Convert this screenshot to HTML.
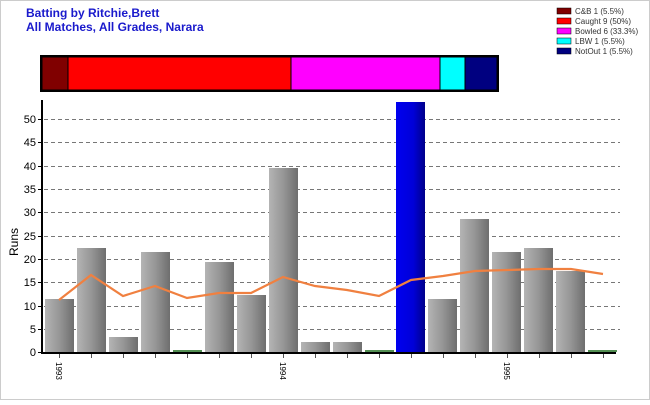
<!DOCTYPE html>
<html><head><style>
body{margin:0;background:#fff;width:650px;height:400px;overflow:hidden;font-family:"Liberation Sans",Arial,sans-serif}
</style></head><body>
<svg width="650" height="400" xmlns="http://www.w3.org/2000/svg" font-family="Liberation Sans, Arial, sans-serif">
<defs>
<linearGradient id="g" x1="0" x2="1" y1="0" y2="0">
<stop offset="0" stop-color="#b4b4b4"/><stop offset="0.5" stop-color="#969696"/><stop offset="1" stop-color="#6e6e6e"/></linearGradient>
<linearGradient id="b" x1="0" x2="1" y1="0" y2="0">
<stop offset="0" stop-color="#0000f0"/><stop offset="0.6" stop-color="#0000d8"/><stop offset="1" stop-color="#00008a"/></linearGradient>
</defs>
<rect x="0.5" y="0.5" width="649" height="399" fill="#fff" stroke="#ccc"/>
<text x="26" y="17" font-size="12" font-weight="bold" fill="#1a1acc">Batting by Ritchie,Brett</text>
<text x="26" y="31" font-size="12" font-weight="bold" fill="#1a1acc">All Matches, All Grades, Narara</text>
<g font-size="8" fill="#333">
<rect x="557" y="8" width="14" height="6" fill="#800000" stroke="#000" stroke-width="0.5"/><text x="575" y="14">C&amp;B 1 (5.5%)</text>
<rect x="557" y="18" width="14" height="6" fill="#ff0000" stroke="#000" stroke-width="0.5"/><text x="575" y="24">Caught 9 (50%)</text>
<rect x="557" y="28" width="14" height="6" fill="#ff00ff" stroke="#000" stroke-width="0.5"/><text x="575" y="34">Bowled 6 (33.3%)</text>
<rect x="557" y="38" width="14" height="6" fill="#00ffff" stroke="#000" stroke-width="0.5"/><text x="575" y="44">LBW 1 (5.5%)</text>
<rect x="557" y="48" width="14" height="6" fill="#000080" stroke="#000" stroke-width="0.5"/><text x="575" y="54">NotOut 1 (5.5%)</text>
</g>
<g stroke="#000" stroke-width="1">
<rect x="42" y="57" width="26" height="33" fill="#800000"/>
<rect x="68" y="57" width="223" height="33" fill="#ff0000"/>
<rect x="291" y="57" width="149" height="33" fill="#ff00ff"/>
<rect x="440" y="57" width="25" height="33" fill="#00ffff"/>
<rect x="465" y="57" width="32" height="33" fill="#000080"/>
</g>
<rect x="41" y="56" width="457" height="35" fill="none" stroke="#000" stroke-width="2"/>
<g stroke="#777" stroke-dasharray="4,3" stroke-width="1">
<line x1="44" x2="620" y1="329.5" y2="329.5"/><line x1="44" x2="620" y1="306.5" y2="306.5"/>
<line x1="44" x2="620" y1="282.5" y2="282.5"/><line x1="44" x2="620" y1="259.5" y2="259.5"/>
<line x1="44" x2="620" y1="236.5" y2="236.5"/><line x1="44" x2="620" y1="212.5" y2="212.5"/>
<line x1="44" x2="620" y1="189.5" y2="189.5"/><line x1="44" x2="620" y1="166.5" y2="166.5"/>
<line x1="44" x2="620" y1="142.5" y2="142.5"/><line x1="44" x2="620" y1="119.5" y2="119.5"/>
</g>
<g fill="url(#g)">
<rect x="45" y="299" width="29" height="53"/>
<rect x="77" y="248" width="29" height="104"/>
<rect x="109" y="337" width="29" height="15"/>
<rect x="141" y="252" width="29" height="100"/>
<rect x="205" y="262" width="29" height="90"/>
<rect x="237" y="295" width="29" height="57"/>
<rect x="269" y="168" width="29" height="184"/>
<rect x="301" y="342" width="29" height="10"/>
<rect x="333" y="342" width="29" height="10"/>
<rect x="428" y="299" width="29" height="53"/>
<rect x="460" y="219" width="29" height="133"/>
<rect x="492" y="252" width="29" height="100"/>
<rect x="524" y="248" width="29" height="104"/>
<rect x="556" y="271" width="29" height="81"/>
</g>
<rect x="396" y="102" width="29" height="250" fill="url(#b)"/>
<g stroke="#1a6a1a" stroke-width="1.5">
<line x1="173" x2="202" y1="351" y2="351"/><line x1="365" x2="394" y1="351" y2="351"/><line x1="588" x2="617" y1="351" y2="351"/>
</g>
<polyline fill="none" stroke="#f08040" stroke-width="2.2" points="59,300 91,275 123,296 155,286 187,298 219,293 251,293 283,277 315,286 347,290 379,296 411,280 443,276 475,271 507,270 539,269 571,269 603,274"/>
<line x1="42" y1="100" x2="42" y2="354" stroke="#000" stroke-width="2"/>
<line x1="41" y1="353" x2="616" y1="353" y2="353" stroke="#000" stroke-width="2"/>
<g stroke="#000" stroke-width="1">
<line x1="38" x2="42" y1="352.5" y2="352.5"/><line x1="38" x2="42" y1="329.5" y2="329.5"/><line x1="38" x2="42" y1="306.5" y2="306.5"/><line x1="38" x2="42" y1="282.5" y2="282.5"/><line x1="38" x2="42" y1="259.5" y2="259.5"/><line x1="38" x2="42" y1="236.5" y2="236.5"/><line x1="38" x2="42" y1="212.5" y2="212.5"/><line x1="38" x2="42" y1="189.5" y2="189.5"/><line x1="38" x2="42" y1="166.5" y2="166.5"/><line x1="38" x2="42" y1="142.5" y2="142.5"/><line x1="38" x2="42" y1="119.5" y2="119.5"/>
</g>
<g stroke="#555" stroke-width="1">
<line x1="59.5" x2="59.5" y1="354" y2="358"/><line x1="91.5" x2="91.5" y1="354" y2="358"/><line x1="123.5" x2="123.5" y1="354" y2="358"/><line x1="155.5" x2="155.5" y1="354" y2="358"/><line x1="187.5" x2="187.5" y1="354" y2="358"/><line x1="219.5" x2="219.5" y1="354" y2="358"/><line x1="251.5" x2="251.5" y1="354" y2="358"/><line x1="283.5" x2="283.5" y1="354" y2="358"/><line x1="315.5" x2="315.5" y1="354" y2="358"/><line x1="347.5" x2="347.5" y1="354" y2="358"/><line x1="379.5" x2="379.5" y1="354" y2="358"/><line x1="411.5" x2="411.5" y1="354" y2="358"/><line x1="443.5" x2="443.5" y1="354" y2="358"/><line x1="475.5" x2="475.5" y1="354" y2="358"/><line x1="507.5" x2="507.5" y1="354" y2="358"/><line x1="539.5" x2="539.5" y1="354" y2="358"/><line x1="571.5" x2="571.5" y1="354" y2="358"/><line x1="603.5" x2="603.5" y1="354" y2="358"/>
</g>
<g font-size="11" fill="#000" text-anchor="end">
<text x="36" y="356">0</text><text x="36" y="333">5</text><text x="36" y="310">10</text><text x="36" y="286">15</text><text x="36" y="263">20</text><text x="36" y="240">25</text><text x="36" y="216">30</text><text x="36" y="193">35</text><text x="36" y="170">40</text><text x="36" y="146">45</text><text x="36" y="123">50</text>
</g>
<text transform="translate(18,242) rotate(-90)" font-size="12" text-anchor="middle">Runs</text>
<g font-size="8" fill="#000">
<text transform="translate(56,362) rotate(90)">1993</text>
<text transform="translate(280,362) rotate(90)">1994</text>
<text transform="translate(504,362) rotate(90)">1995</text>
</g>
</svg>
</body></html>
